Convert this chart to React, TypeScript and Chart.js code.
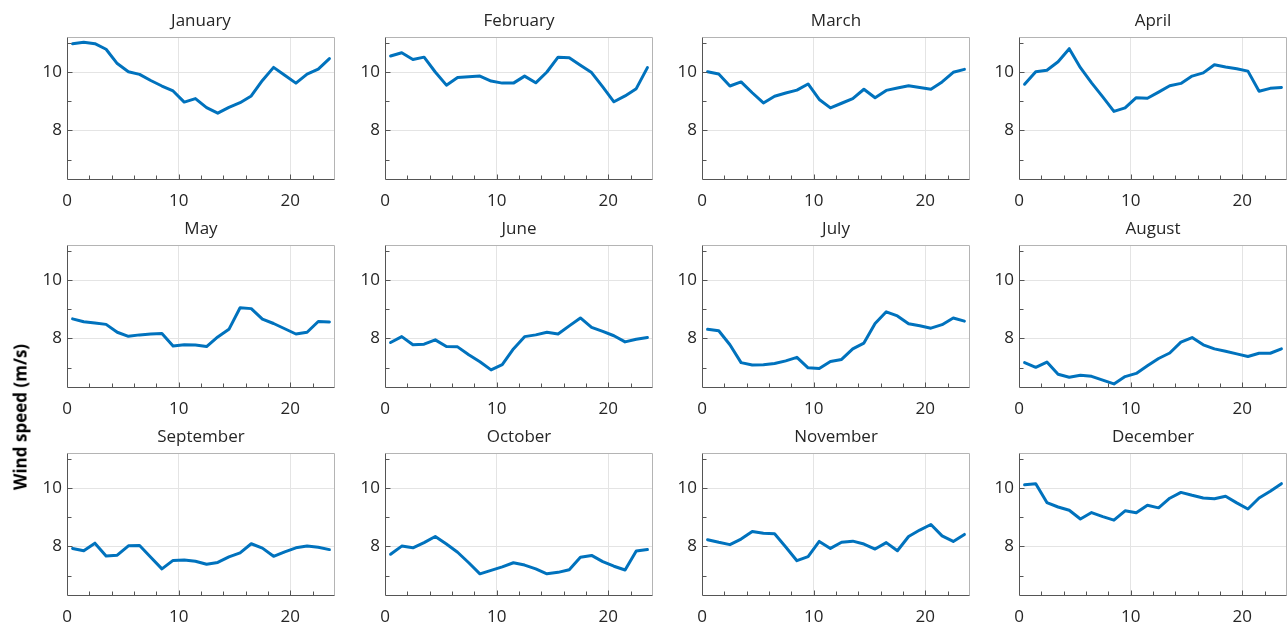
import { useEffect, useRef } from "react";
import { Chart, registerables } from "chart.js";

Chart.register(...registerables);

// Hour of day (bin centres) shared by every monthly profile
const HOURS = [
  0.5, 1.5, 2.5, 3.5, 4.5, 5.5, 6.5, 7.5, 8.5, 9.5, 10.5, 11.5,
  12.5, 13.5, 14.5, 15.5, 16.5, 17.5, 18.5, 19.5, 20.5, 21.5, 22.5, 23.5,
];

// Mean wind speed (m/s) per hour, one array per month
const JANUARY = [10.97, 11.02, 10.97, 10.78, 10.29, 10.01, 9.92, 9.71, 9.52, 9.35, 8.97, 9.09, 8.78, 8.59, 8.79, 8.95, 9.18, 9.71, 10.16, 9.89, 9.62, 9.93, 10.1, 10.46];
const FEBRUARY = [10.55, 10.66, 10.43, 10.51, 10.0, 9.55, 9.81, 9.84, 9.86, 9.69, 9.62, 9.62, 9.86, 9.63, 10.0, 10.51, 10.49, 10.23, 9.98, 9.49, 8.98, 9.18, 9.43, 10.15];
const MARCH = [10.01, 9.93, 9.52, 9.66, 9.29, 8.94, 9.17, 9.28, 9.38, 9.59, 9.06, 8.77, 8.93, 9.09, 9.41, 9.12, 9.37, 9.45, 9.53, 9.47, 9.41, 9.66, 9.99, 10.09];
const APRIL = [9.58, 10.01, 10.06, 10.35, 10.8, 10.15, 9.63, 9.15, 8.65, 8.77, 9.12, 9.1, 9.31, 9.53, 9.61, 9.86, 9.97, 10.25, 10.17, 10.11, 10.03, 9.34, 9.44, 9.47];
const MAY = [8.67, 8.57, 8.53, 8.48, 8.21, 8.07, 8.12, 8.15, 8.17, 7.74, 7.78, 7.77, 7.72, 8.05, 8.31, 9.05, 9.02, 8.66, 8.51, 8.33, 8.15, 8.21, 8.58, 8.56];
const JUNE = [7.86, 8.06, 7.78, 7.8, 7.95, 7.72, 7.71, 7.44, 7.2, 6.92, 7.1, 7.64, 8.06, 8.12, 8.21, 8.15, 8.43, 8.7, 8.38, 8.24, 8.09, 7.88, 7.97, 8.03];
const JULY = [8.31, 8.26, 7.78, 7.17, 7.09, 7.1, 7.14, 7.23, 7.35, 6.99, 6.97, 7.21, 7.28, 7.64, 7.84, 8.51, 8.91, 8.77, 8.5, 8.43, 8.35, 8.47, 8.7, 8.59];
const AUGUST = [7.17, 7.01, 7.19, 6.77, 6.67, 6.74, 6.7, 6.57, 6.44, 6.69, 6.8, 7.06, 7.31, 7.5, 7.87, 8.03, 7.78, 7.64, 7.56, 7.47, 7.38, 7.49, 7.49, 7.64];
const SEPTEMBER = [7.93, 7.85, 8.11, 7.67, 7.7, 8.02, 8.03, 7.63, 7.23, 7.52, 7.53, 7.49, 7.39, 7.45, 7.64, 7.78, 8.09, 7.94, 7.66, 7.81, 7.95, 8.01, 7.97, 7.89];
const OCTOBER = [7.73, 8.01, 7.95, 8.13, 8.34, 8.08, 7.8, 7.44, 7.06, 7.18, 7.3, 7.44, 7.36, 7.23, 7.06, 7.11, 7.2, 7.63, 7.69, 7.48, 7.32, 7.19, 7.84, 7.89];
const NOVEMBER = [8.23, 8.14, 8.06, 8.25, 8.51, 8.45, 8.43, 7.98, 7.51, 7.65, 8.17, 7.93, 8.14, 8.18, 8.08, 7.91, 8.13, 7.85, 8.34, 8.56, 8.75, 8.36, 8.17, 8.41];
const DECEMBER = [10.11, 10.15, 9.5, 9.35, 9.24, 8.94, 9.16, 9.02, 8.9, 9.22, 9.15, 9.41, 9.32, 9.65, 9.85, 9.75, 9.66, 9.63, 9.72, 9.49, 9.28, 9.66, 9.89, 10.15];

const MONTH_NAMES = [
  "January", "February", "March", "April", "May", "June",
  "July", "August", "September", "October", "November", "December",
];
const MONTH_VALUES = [
  JANUARY, FEBRUARY, MARCH, APRIL, MAY, JUNE,
  JULY, AUGUST, SEPTEMBER, OCTOBER, NOVEMBER, DECEMBER,
];

// Axis ticks
const X_TICK_LABELS = [0, 10, 20];
const X_MINOR_TICKS = [2, 4, 6, 8, 10, 12, 14, 16, 18, 20, 22];
const Y_TICK_LABELS = [8, 10];
const Y_MINOR_TICKS = [7, 8, 9, 10, 11];
const X_RANGE = [0, 24];
const Y_RANGE = [6.3, 11.2];
const Y_AXIS_TITLE = "Wind speed (m/s)";

// Layout
const FONT = '"Open Sans", "Noto Sans", "DejaVu Sans", sans-serif';
const TEXT_COLOR = "#262626";
const LINE_COLOR = "#0072BD";
const GRID_COLOR = "#e4e4e4";
const PLOT_W = 268;
const PLOT_H = 143;
const PAD_L = 52;
const PAD_R = 3;
const PAD_T = 37;
const PAD_B = 36;
const COL_X = [67, 385, 702, 1019];
const ROW_Y = [37, 245, 453];

function crisp(v: number) {
  return Math.round(v) + 0.5;
}

function makeFramePlugin(title: string) {
  return {
    id: "frameAndTitle",
    afterDatasetsDraw(chart: any) {
      const { ctx, chartArea, scales } = chart;
      const { left, right, top, bottom } = chartArea;
      const L = crisp(left);
      const R = crisp(right) - 1;
      const T = crisp(top);
      const B = crisp(bottom) - 1;
      ctx.save();
      ctx.lineWidth = 1;
      // top and right edges of the box
      ctx.strokeStyle = "#b4b4b4";
      ctx.beginPath();
      ctx.moveTo(L, T);
      ctx.lineTo(R, T);
      ctx.lineTo(R, B);
      ctx.stroke();
      // axis lines
      ctx.strokeStyle = "#555555";
      ctx.beginPath();
      ctx.moveTo(L, T);
      ctx.lineTo(L, B);
      ctx.lineTo(R, B);
      ctx.stroke();
      // inward tick marks
      ctx.beginPath();
      for (const v of X_MINOR_TICKS) {
        const px = crisp(scales.x.getPixelForValue(v));
        const len = X_TICK_LABELS.includes(v) ? 5 : 4;
        ctx.moveTo(px, B);
        ctx.lineTo(px, B - len);
      }
      for (const v of Y_MINOR_TICKS) {
        const py = crisp(scales.y.getPixelForValue(v));
        const len = Y_TICK_LABELS.includes(v) ? 5 : 4;
        ctx.moveTo(L, py);
        ctx.lineTo(L + len, py);
      }
      ctx.stroke();
      ctx.restore();
    },
    afterDraw(chart: any) {
      const { ctx, chartArea } = chart;
      ctx.save();
      ctx.font = `17px ${FONT}`;
      ctx.fillStyle = TEXT_COLOR;
      ctx.textAlign = "center";
      ctx.textBaseline = "middle";
      ctx.fillText(title, (chartArea.left + chartArea.right) / 2, chartArea.top - 16);
      ctx.restore();
    },
  };
}

// Fix each axis' footprint so every panel's plot area has the same size
function fixAxisSize(s: any, size: number) {
  if (s.isHorizontal()) s.height = size;
  else s.width = size;
  s.paddingLeft = 0;
  s.paddingRight = 0;
  s.paddingTop = 0;
  s.paddingBottom = 0;
}

function Panel({ title, values, left, top }: { title: string; values: number[]; left: number; top: number }) {
  const ref = useRef<HTMLCanvasElement>(null);
  const width = PAD_L + PLOT_W + PAD_R;
  const height = PAD_T + PLOT_H + PAD_B;

  useEffect(() => {
    if (!ref.current) return;
    const chart = new Chart(ref.current, {
      type: "line",
      data: {
        datasets: [
          {
            data: HOURS.map((h, i) => ({ x: h, y: values[i] })),
            borderColor: LINE_COLOR,
            borderWidth: 3,
            pointRadius: 0,
            fill: false,
            tension: 0,
            borderJoinStyle: "round",
            borderCapStyle: "round",
          },
        ],
      },
      options: {
        animation: false,
        responsive: false,
        events: [],
        layout: { padding: { left: 0, right: PAD_R, top: PAD_T, bottom: 0 } },
        plugins: {
          legend: { display: false },
          tooltip: { enabled: false },
          title: { display: false },
        },
        scales: {
          x: {
            type: "linear",
            min: X_RANGE[0],
            max: X_RANGE[1],
            afterFit: (s: any) => fixAxisSize(s, PAD_B),
            border: { display: false },
            grid: {
              drawTicks: false,
              color: (c: any) =>
                c.tick && (c.tick.value === 10 || c.tick.value === 20) ? GRID_COLOR : "rgba(0,0,0,0)",
            },
            ticks: {
              stepSize: 2,
              autoSkip: false,
              maxRotation: 0,
              padding: 11,
              color: TEXT_COLOR,
              font: { family: FONT, size: 17 },
              callback: (v: any) => (X_TICK_LABELS.includes(Number(v)) ? String(v) : ""),
            },
          },
          y: {
            type: "linear",
            min: Y_RANGE[0],
            max: Y_RANGE[1],
            afterFit: (s: any) => fixAxisSize(s, PAD_L),
            border: { display: false },
            grid: {
              drawTicks: false,
              color: (c: any) =>
                c.tick && Y_TICK_LABELS.includes(c.tick.value) ? GRID_COLOR : "rgba(0,0,0,0)",
            },
            ticks: {
              stepSize: 1,
              autoSkip: false,
              padding: 5,
              color: TEXT_COLOR,
              font: { family: FONT, size: 17 },
              callback: (v: any) => (Y_TICK_LABELS.includes(Number(v)) ? String(v) : ""),
            },
          },
        },
      },
      plugins: [makeFramePlugin(title)],
    } as any);
    return () => chart.destroy();
  }, [title, values]);

  return (
    <div style={{ position: "absolute", left: left - PAD_L, top: top - PAD_T, width, height }}>
      <canvas ref={ref} width={width} height={height} style={{ display: "block", width, height }} />
    </div>
  );
}

export default function App() {
  return (
    <div
      style={{
        position: "fixed",
        left: 0,
        top: 0,
        width: 1287,
        height: 622,
        overflow: "hidden",
        background: "#ffffff",
      }}
    >
      {MONTH_NAMES.map((name, i) => (
        <Panel
          key={name}
          title={name}
          values={MONTH_VALUES[i]}
          left={COL_X[i % 4]}
          top={ROW_Y[Math.floor(i / 4)]}
        />
      ))}
      <div
        style={{
          position: "absolute",
          left: 20,
          top: 417,
          transform: "translate(-50%, -50%) rotate(-90deg)",
          fontFamily: FONT,
          fontWeight: 700,
          fontSize: 17,
          color: "#000000",
          whiteSpace: "nowrap",
        }}
      >
        {Y_AXIS_TITLE}
      </div>
    </div>
  );
}
